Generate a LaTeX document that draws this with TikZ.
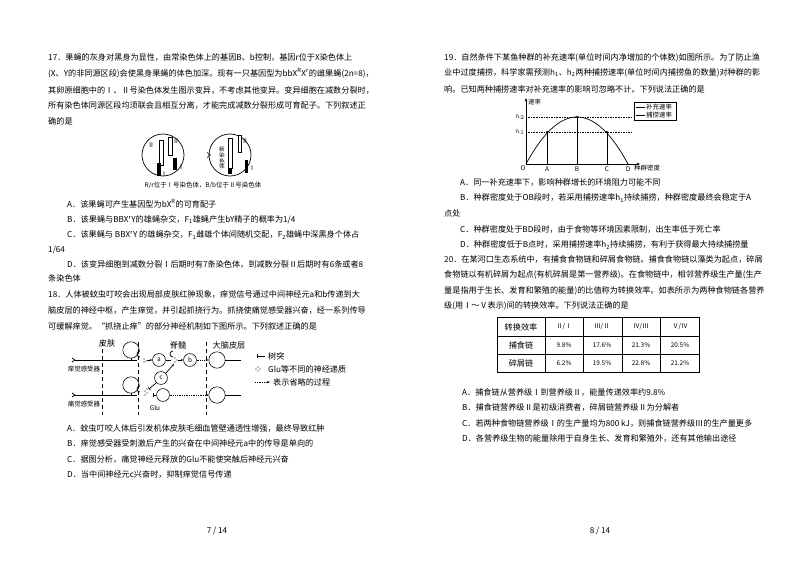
\documentclass[tikz,border=0pt]{standalone}
\usepackage{fontspec}
\setmainfont{Noto Sans CJK SC}
\usetikzlibrary{arrows.meta}
\newcommand{\fs}{\fontsize{6.95}{8}\selectfont}
\newcommand{\fsm}{\fontsize{5.5}{6}\selectfont}
\tikzset{
 t/.style={anchor=west, inner sep=0pt, font=\fs, text=black},
 sm/.style={inner sep=0pt, font=\fsm, text=black},
 neu/.style={draw, circle, minimum size=11pt, inner sep=0pt, font=\fsm, line width=0.5pt},
 cb/.style={draw, circle, minimum size=14pt, inner sep=0pt, line width=0.5pt},
 ax/.style={line width=0.6pt},
 vd/.style={dashed, line width=0.6pt},
 om/.style={densely dotted, -{Stealth[length=2.5pt]}, line width=0.5pt},
}
\begin{document}
\begin{tikzpicture}[x=0.03cm,y=-0.03cm]
\useasboundingbox (0,0) rectangle (800,566);
\fill[white] (0,0) rectangle (800,566);
% ---------- Q17
\node[t] (l1) at (48,57) {17．果蝇的灰身对黑身为显性，由常染色体上的基因B、b控制，基因r位于X染色体上};
\node[t] (l2) at (48,73) {(X、Y的非同源区段)会使黑身果蝇的体色加深。现有一只基因型为bbX\textsuperscript{R}X\textsuperscript{r}的雌果蝇(2n=8)，};
\node[t] (l3) at (48,90) {其卵原细胞中的Ⅰ、Ⅱ号染色体发生图示变异，不考虑其他变异。变异细胞在减数分裂时，};
\node[t] (l4) at (48,105) {所有染色体同源区段均须联会且相互分离，才能完成减数分裂形成可育配子。下列叙述正};
\node[t] (l5) at (48,121) {确的是};
% chromosome figure
\coordinate (cc1) at (163,155); \coordinate (cc2) at (230,155);
\draw[line width=0.6pt] (cc1) circle (21);
\draw[line width=0.6pt] (cc2) circle (21);
\draw[fill=white] (159,140) rectangle (163,165);
\draw[fill=white] (168,137) rectangle (172,155);
\fill (157,163) rectangle (161,176);
\fill (173,158) rectangle (177,170);
\node[sm] (r1) at (151,145) {Ⅱ};
\node[sm] (r2) at (176,141) {Ⅱ};
\node[sm] (r3) at (164,174) {Ⅰ};
\node[sm] (r4) at (181,167) {Ⅰ};
\draw[fill=white] (228,138) rectangle (232,168);
\fill (228,168) rectangle (232,174);
\draw[fill=white] (238,135) rectangle (241,152);
\fill (245,160) rectangle (248,173);
\node[sm] (r5) at (245,141) {Ⅱ};
\node[sm] (r6) at (252,168) {Ⅰ};
\node[sm, align=center, font=\fontsize{4.8}{5}\selectfont] (xin) at (222,158) {新\\染\\色\\体};
\coordinate (ar1) at (196,155); \coordinate (ar2) at (211,155);
\draw[double, double distance=1.5pt, -{Implies}] (ar1) -- (ar2);
\node[sm] (cap) at (203,185) {R/r位于Ⅰ号染色体，B/b位于Ⅱ号染色体};
% options
\node[t] (a17) at (67,204) {A．该果蝇可产生基因型为bX\textsuperscript{R}的可育配子};
\node[t] (b17) at (67,220) {B．该果蝇与BBX\textsuperscript{r}Y的雄蝇杂交，F\textsubscript{1}雄蝇产生bY精子的概率为1/4};
\node[t] (c17) at (67,235) {C．该果蝇与 BBX\textsuperscript{r}Y 的雄蝇杂交，F\textsubscript{1}雌雄个体间随机交配，F\textsubscript{2}雄蝇中深黑身个体占};
\node[t] (c17b) at (48,250) {1/64};
\node[t] (d17) at (67,264) {D．该变异细胞到减数分裂Ⅰ后期时有7条染色体，到减数分裂Ⅱ后期时有6条或者8};
\node[t] (d17b) at (48,278) {条染色体};
% ---------- Q18
\node[t] (q18a) at (48,294) {18．人体被蚊虫叮咬会出现局部皮肤红肿现象，痒觉信号通过中间神经元a和b传递到大};
\node[t] (q18b) at (48,310) {脑皮层的神经中枢，产生痒觉，并引起抓挠行为。抓挠使痛觉感受器兴奋，经一系列传导};
\node[t] (q18c) at (48,326) {可缓解痒觉。“抓挠止痒”的部分神经机制如下图所示。下列叙述正确的是};
% neuron figure
\coordinate (v1t) at (102,342); \coordinate (v1b) at (102,415);
\coordinate (v2t) at (138,342); \coordinate (v2b) at (138,415);
\coordinate (v3t) at (206,342); \coordinate (v3b) at (206,415);
\draw[vd] (v1t) -- (v1b); \draw[vd] (v2t) -- (v2b); \draw[vd] (v3t) -- (v3b);
\node[sm,font=\fs] (pf) at (107,343) {皮肤};
\node[sm,font=\fs] (jz) at (178,345) {脊髓};
\node[sm,font=\fs] (dn) at (229,345) {大脑皮层};
\node[sm] (yj) at (84,369) {痒觉感受器};
\node[sm] (tj) at (84,404) {痛觉感受器};
% top path
\coordinate (rt) at (75,360); \coordinate (st) at (137,360);
\draw[ax] (rt) -- (st);
\draw[ax] (rt) -- ++(-3,-2) (rt) -- ++(-3,2);
\node[cb] (cbt) at (131,350) {};
\draw[ax] (cbt.south) -- (131,360);
\draw[ax] (140,357) arc (90:270:3);
\node[neu] (na) at (159,360) {a};
\node[neu] (nb) at (190,360) {b};
\node[cb] (ct) at (217,360) {};
\coordinate (et) at (241,360);
\fill (144,359) circle (0.6) (146,361) circle (0.6) (144,362) circle (0.6);
\draw[-{Stealth[length=2pt]}] (147,360) -- (na.west);
\draw[ax] (na.east) -- (171,360);
\draw[ax] (173,357) arc (90:270:3);
\fill (175,358) circle (0.6) (177,360) circle (0.6) (175,362) circle (0.6);
\draw[-{Stealth[length=2pt]}] (178,360) -- (nb.west);
\draw[om] (nb.east) -- (ct.west);
\draw[ax] (ct.east) -- (et);
% c
\node[neu] (nc) at (161,378) {c};
\coordinate (cup) at (174,364);
\coordinate (cdn) at (149,389);
\draw[ax,-{Stealth[length=2pt]}] (nc.north east) -- (cup);
\draw[ax,-{Bar[width=3pt]}] (nc.south west) -- (cdn);
% lower path
\coordinate (rb) at (75,395); \coordinate (sb) at (137,395);
\draw[ax] (rb) -- (sb);
\draw[ax] (rb) -- ++(-3,-2) (rb) -- ++(-3,2);
\node[cb] (cbb) at (131,385) {};
\draw[ax] (cbb.south) -- (131,395);
\draw[ax] (140,392) arc (90:270:3);
\fill (145,391) circle (0.6) (147,393) circle (0.6) (145,395) circle (0.6) (147,389) circle (0.6);
\node[sm] (glu) at (155,408) {Glu};
\node[neu] (nd) at (163,395) {};
\draw[ax,-{Bar[width=3pt]}] (nd.west) -- ++(-3,0);
\node[cb] (cbm) at (217,395) {};
\draw[om] (nd.east) -- (cbm.west);
\coordinate (eb) at (241,395);
\draw[ax] (cbm.east) -- (eb);
% legend
\coordinate (lg1) at (265,356); \coordinate (lg2) at (257,356);
\draw[ax,-{Bar[width=3pt]}] (lg1) -- (lg2);
\node[sm,font=\fs,anchor=west] (lgt1) at (268,356) {树突};
\fill (258,367) circle (0.6) (260,369) circle (0.6) (258,371) circle (0.6) (256,369) circle (0.6);
\node[sm,font=\fs,anchor=west] (lgt2) at (268,369) {Glu等不同的神经递质};
\coordinate (lg3) at (255,382); \coordinate (lg4) at (270,382);
\draw[om] (lg3) -- (lg4);
\node[sm,font=\fs,anchor=west] (lgt3) at (273,382) {表示省略的过程};
% options 18
\node[t] (a18) at (67,428) {A．蚊虫叮咬人体后引发机体皮肤毛细血管壁通透性增强，最终导致红肿};
\node[t] (b18) at (67,443) {B．痒觉感受器受刺激后产生的兴奋在中间神经元a中的传导是单向的};
\node[t] (c18) at (67,459) {C．据图分析，痛觉神经元释放的Glu不能使突触后神经元兴奋};
\node[t] (d18) at (67,474) {D．当中间神经元c兴奋时，抑制痒觉信号传递};
\node[sm,font=\fs] (p7) at (217,531) {7 / 14};
% ---------- Q19
\node[t] (q19a) at (444,58) {19．自然条件下某鱼种群的补充速率(单位时间内净增加的个体数)如图所示。为了防止渔};
\node[t] (q19b) at (444,73) {业中过度捕捞，科学家需预测h\textsubscript{1}、h\textsubscript{2}两种捕捞速率(单位时间内捕捞鱼的数量)对种群的影};
\node[t] (q19c) at (444,89) {响。已知两种捕捞速率对补充速率的影响可忽略不计。下列说法正确的是};
% chart
\coordinate (O) at (526,164);
\coordinate (ytop) at (526,98);
\coordinate (xend) at (640,164);
\draw[line width=0.6pt,-{Stealth[length=3pt]}] (O) -- (ytop);
\draw[line width=0.6pt,-{Stealth[length=3pt]}] (O) -- (xend);
\node[sm,anchor=west] (sl) at (528,102) {速率};
\node[sm] (lo) at (523,168) {O};
\node[sm,anchor=west] (lzq) at (634,168) {种群密度};
\draw[densely dotted] (526,117) -- (632,117);
\draw[densely dotted] (526,132) -- (632,132);
\node[sm] (lh2) at (520,117) {$h_2$};
\node[sm] (lh1) at (520,132) {$h_1$};
\draw[line width=0.6pt, domain=526:628, samples=60, smooth] plot (\x,{164-47*(1-((\x-577)/51)^2)});
\coordinate (pA) at (547.2,132); \coordinate (pB) at (577,117); \coordinate (pC) at (606.8,132);
\fill (pA) circle (1.2) (pB) circle (1.2) (pC) circle (1.2);
\draw (pA) -- (547.2,164); \draw (pB) -- (577,164); \draw (pC) -- (606.8,164);
\node[sm] (lA) at (547,169) {A};
\node[sm] (lB) at (577,169) {B};
\node[sm] (lC) at (607,169) {C};
\node[sm] (lD) at (628,169) {D};
\draw (634,102) rectangle (676,120);
\draw (636,107) -- (645,107); \draw (636,115) -- (645,115);
\node[sm,anchor=west] (lg5) at (646,107) {补充速率};
\node[sm,anchor=west] (lg6) at (646,115) {捕捞速率};
\node[t] (a19) at (460,182) {A．同一补充速率下，影响种群增长的环境阻力可能不同};
\node[t] (b19) at (460,198) {B．种群密度处于OB段时，若采用捕捞速率h\textsubscript{1}持续捕捞，种群密度最终会稳定于A};
\node[t] (b19b) at (444,213) {点处};
\node[t] (c19) at (460,229) {C．种群密度处于BD段时，由于食物等环境因素限制，出生率低于死亡率};
\node[t] (d19) at (460,245) {D．种群密度低于B点时，采用捕捞速率h\textsubscript{2}持续捕捞，有利于获得最大持续捕捞量};
% ---------- Q20
\node[t] (q20a) at (444,259) {20．在某河口生态系统中，有捕食食物链和碎屑食物链。捕食食物链以藻类为起点，碎屑};
\node[t] (q20b) at (444,275) {食物链以有机碎屑为起点(有机碎屑是第一营养级)。在食物链中，相邻营养级生产量(生产};
\node[t] (q20c) at (444,291) {量是指用于生长、发育和繁殖的能量)的比值称为转换效率。如表所示为两种食物链各营养};
\node[t] (q20d) at (444,306) {级(用Ⅰ～Ⅴ表示)间的转换效率。下列说法正确的是};
% table
\draw[line width=0.7pt] (497,317) rectangle (699,372);
\draw (497,336) -- (699,336); \draw (497,354) -- (699,354);
\draw (545,317) -- (545,372); \draw (583,317) -- (583,372);
\draw (622,317) -- (622,372); \draw (660,317) -- (660,372);
\node[sm,font=\fs] (h0) at (521,327) {转换效率};
\node[sm] (h1) at (564,327) {Ⅱ/Ⅰ};
\node[sm] (h2) at (602,327) {Ⅲ/Ⅱ};
\node[sm] (h3) at (641,327) {Ⅳ/Ⅲ};
\node[sm] (h4) at (680,327) {Ⅴ/Ⅳ};
\node[sm,font=\fs] (r10) at (521,345) {捕食链};
\node[sm] (r11) at (564,345) {9.8\%};
\node[sm] (r12) at (602,345) {17.6\%};
\node[sm] (r13) at (641,345) {21.3\%};
\node[sm] (r14) at (680,345) {20.5\%};
\node[sm,font=\fs] (r20) at (521,363) {碎屑链};
\node[sm] (r21) at (564,363) {6.2\%};
\node[sm] (r22) at (602,363) {19.5\%};
\node[sm] (r23) at (641,363) {22.8\%};
\node[sm] (r24) at (680,363) {21.2\%};
\node[t] (a20) at (462,392) {A．捕食链从营养级Ⅰ到营养级Ⅱ，能量传递效率约9.8\%};
\node[t] (b20) at (462,407) {B．捕食链营养级Ⅱ是初级消费者，碎屑链营养级Ⅱ为分解者};
\node[t] (c20) at (462,423) {C．若两种食物链营养级Ⅰ的生产量均为800 kJ，则捕食链营养级Ⅲ的生产量更多};
\node[t] (d20) at (462,438) {D．各营养级生物的能量除用于自身生长、发育和繁殖外，还有其他输出途径};
\node[sm,font=\fs] (p8) at (600,531) {8 / 14};
\end{tikzpicture}
\end{document}
